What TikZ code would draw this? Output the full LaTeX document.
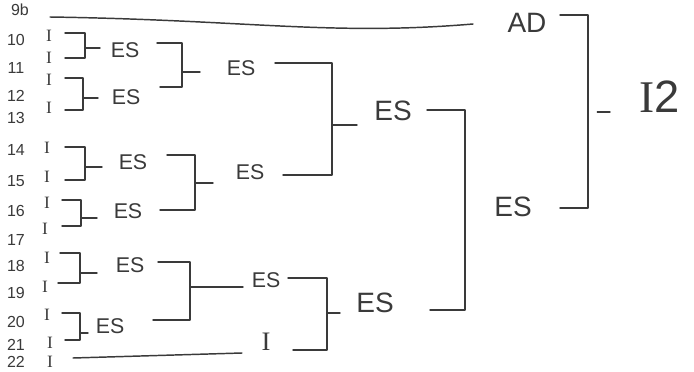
\documentclass[tikz,border=0pt]{standalone}
\usepackage{fontspec}
\setmainfont{Liberation Sans}
\newfontfamily\markfont{Liberation Serif}
\definecolor{ink}{RGB}{58,58,58}
\tikzset{
	link/.style={draw=ink, line width=1.1pt, line cap=round, line join=round},
	rownum/.style={text=ink, font=\fontsize{12}{12}\selectfont, inner sep=1pt},
	imark/.style={text=ink, font=\markfont\fontsize{13}{13}\selectfont, inner sep=1pt},
	team/.style={text=ink, font=\fontsize{16}{16}\selectfont, inner sep=1pt},
	bigteam/.style={text=ink, font=\fontsize{21}{21}\selectfont, inner sep=1pt},
}

\begin{document}
\begin{tikzpicture}[x=0.75pt, y=-0.75pt]
	\useasboundingbox[fill=white] (0,0) rectangle (694,372);
	% row numbers and markers
	\foreach \n/\x/\y in {9b/20/10, 10/16/40, 11/16/68, 12/16/96, 13/16/118, 14/16/150, 15/16/181, 16/16/211, 17/16/240, 18/16/266, 19/16/293, 20/16/322, 21/16/345, 22/16/362}
		\node[rownum] (r\n) at (\x,\y) {\n};
	\foreach \n/\x/\y in {10/49/36, 11/49/58, 12/49/80, 13/49/108, 14/47/148, 15/47/177, 16/47/203, 17/45/229, 18/47/258, 19/45/287, 20/47/315, 21/50/343, 22/50/362}
		\node[imark] (i\n) at (\x,\y) {I};
	% labels
	\node[team] (es1) at (125,50) {ES};
	\node[team] (es2) at (126,97) {ES};
	\node[team] (es3) at (133,162) {ES};
	\node[team] (es4) at (128,211) {ES};
	\node[team] (es5) at (130,265) {ES};
	\node[team] (es6) at (110,326) {ES};
	\node[team] (es7) at (241,68) {ES};
	\node[team] (es8) at (250,172) {ES};
	\node[team] (es9) at (266,280) {ES};
	\node[team, font=\markfont\fontsize{20}{20}\selectfont] (isolo) at (266,342) {I};
	\node[bigteam] (es10) at (393,111) {ES};
	\node[bigteam] (es11) at (375,303) {ES};
	\node[bigteam] (es12) at (513,207) {ES};
	\node[bigteam] (ad) at (527,23) {AD};
	\node[text=ink, font=\fontsize{34}{34}\selectfont, inner sep=1pt] (final) at (660,97) {{\markfont I}2};
	% bracket corners
	\foreach \nm/\x/\y in {t1/65/33, b1/65/58, v1/85/48, e1/100/48,
		t2/65/78, b2/65/110, v2/83/98, e2/98/98,
		t3/65/147, b3/65/180, v3/85/167, e3/102/167,
		t4/62/200, b4/62/226, v4/81/218, e4/97/218,
		t5/60/253, b5/58/283, v5/80/273, e5/97/273,
		t6/62/313, b6/65/340, v6/80/333, e6/88/333,
		t7/157/43, b7/160/87, v7/182/72, e7/200/72,
		t8/167/155, b8/160/210, v8/195/183, e8/213/183,
		t9/158/262, b9/153/320, v9/190/287, e9/243/287,
		t10/275/63, b10/283/175, v10/332/125, e10/357/125,
		t11/288/278, b11/293/350, v11/327/313, e11/340/313,
		t12/427/110, b12/430/310, v12/465/210,
		t13/560/15, b13/560/208, v13/588/112, e13/610/112}
		\coordinate (\nm) at (\x,\y);
	\foreach \k in {1,...,13}
		\draw[link] (t\k) -| (v\k) |- (b\k);
	\foreach \k in {1,...,11}
		\draw[link] (v\k) -- (e\k);
	\draw[link, shorten <=7pt] (v13) -- (e13);
	% long lines
	\coordinate (s9b) at (50,17);
	\coordinate (f9b) at (473,24);
	\draw[link] (s9b) .. controls (250,20) and (330,36) .. (f9b);
	\coordinate (s21) at (73,358);
	\coordinate (f21) at (242,353);
	\draw[link] (s21) -- (f21);
\end{tikzpicture}
\end{document}
